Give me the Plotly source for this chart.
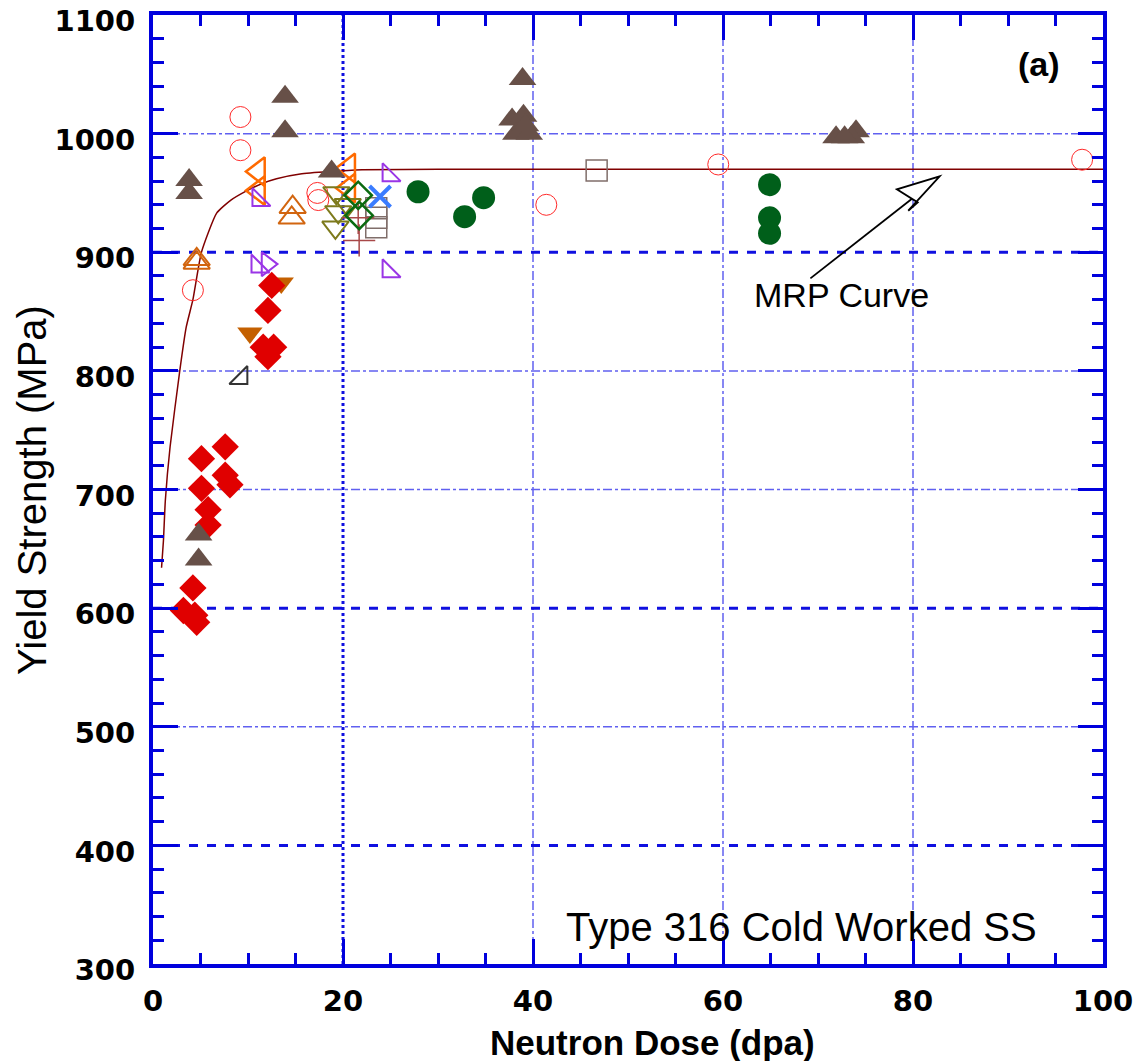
import plotly.graph_objects as go

# ---- data: neutron dose (dpa) vs yield strength (MPa), Type 316 CW SS ----
red_diamond_x = [12.5, 12.1, 11.6, 12.7, 12.1, 7.6, 5.1, 7.6, 8.1, 5.1, 5.8, 5.8, 4.2, 3.2, 4.4, 4.6]
red_diamond_y = [872, 851, 820, 820, 812, 736, 726, 712, 704, 701, 683, 670, 617, 598, 594, 588]

brown_tri_x = [3.8, 3.8, 13.9, 13.9, 18.8, 4.8, 4.8, 38.9, 37.8, 39.0, 38.2, 39.6, 39.2, 71.9, 74.0, 73.5, 72.8]
brown_tri_y = [961, 950, 1031, 1002, 968, 662, 641, 1046, 1012, 1015, 1000, 1000, 1007, 997, 1002, 997, 997]

red_circle_x = [9.2, 9.2, 4.2, 17.3, 17.4, 41.4, 59.5, 97.8]
red_circle_y = [1014, 986, 868, 950, 944, 940, 974, 978]

orange_left_x = [11.1, 11.1, 20.6, 20.6]
orange_left_y = [968, 952, 971, 954]

orange_up_x = [14.7, 14.6, 4.6, 4.6]
orange_up_y = [938, 929, 894, 891]

purple_sw_x = [11.1, 24.8, 24.8, 11.0]
purple_sw_y = [944, 965, 884, 888]

purple_right_x = [12.0]
purple_right_y = [890]

olive_down_x = [19.3, 20.5, 19.5, 19.2]
olive_down_y = [950, 940, 934, 921]

green_diamond_x = [21.6, 21.7]
green_diamond_y = [948, 931]

blue_x_x = [23.9]
blue_x_y = [947]

gray_square_x = [23.5, 23.5, 23.5, 46.7]
gray_square_y = [937, 929, 921, 969]

brown_plus_x = [21.6, 21.7]
brown_plus_y = [929, 910]

green_circle_x = [27.9, 34.8, 32.8, 64.9, 64.9, 64.9]
green_circle_y = [951, 946, 930, 957, 929, 916]

orange_down_x = [13.5, 10.2]
orange_down_y = [874, 832]

black_se_x = [9.3]
black_se_y = [794]

# MRP curve, traced point by point
mrp_x = [0.9, 1.1, 1.3, 1.8, 2.8, 3.5, 4.2, 5.1, 6.7, 8.2, 9.9, 11.5, 13.0, 15.5, 18.6, 22.0, 30.0, 100.0]
mrp_y = [634, 657, 691, 736, 799, 837, 860, 900, 933, 944, 952, 958, 962, 966, 968, 969.5, 970, 970]

# grid positions
x_grid = [20, 40, 60, 80]
y_grid = [400, 500, 600, 700, 800, 900, 1000]
x_ticks = [0, 20, 40, 60, 80, 100]
y_ticks = [300, 400, 500, 600, 700, 800, 900, 1000, 1100]

fig = go.Figure()

# gridlines (heavy dotted / light dash-dot)
heavy_y = {400, 600, 900}
heavy_x = {20}
for gx in x_grid:
    heavy = gx in heavy_x
    fig.add_shape(type="line", xref="x", yref="y", x0=gx, x1=gx, y0=300, y1=1100,
                  line=dict(color="#1010e0" if heavy else "#6060f0",
                            width=3 if heavy else 1.5,
                            dash="dot" if heavy else "dashdot"), layer="below")
for gy in y_grid:
    heavy = gy in heavy_y
    fig.add_shape(type="line", xref="x", yref="y", x0=0, x1=100, y0=gy, y1=gy,
                  line=dict(color="#1010e0" if heavy else "#6060f0",
                            width=3 if heavy else 1.5,
                            dash="dash" if heavy else "dashdot"), layer="below")

# MRP curve
fig.add_trace(go.Scatter(x=mrp_x, y=mrp_y, mode="lines",
                         line=dict(color="#800000", width=1.5, shape="spline", smoothing=0.5),
                         hoverinfo="skip", showlegend=False))


def add_pts(x, y, symbol, color, size, lw=1.5, fill=None):
    marker = dict(symbol=symbol, size=size, color=fill if fill else color,
                  line=dict(color=color, width=lw))
    fig.add_trace(go.Scatter(x=x, y=y, mode="markers", marker=marker, showlegend=False))


add_pts(red_circle_x, red_circle_y, "circle-open", "#ff2a2a", 21, 1)
add_pts(orange_left_x, orange_left_y, "triangle-left-open", "#ff6a00", 25, 2.5)
add_pts(orange_up_x, orange_up_y, "triangle-up-open", "#d2650f", 23, 2)
add_pts(purple_sw_x, purple_sw_y, "triangle-sw-open", "#9a35e6", 20, 2)
add_pts(purple_right_x, purple_right_y, "triangle-right-open", "#9a35e6", 21, 2)
add_pts(olive_down_x, olive_down_y, "triangle-down-open", "#7d7a1c", 23, 2)
add_pts(gray_square_x, gray_square_y, "square-open", "#806e6a", 21, 1.5)
add_pts(brown_plus_x, brown_plus_y, "cross-thin-open", "#a84848", 23, 1.5)
add_pts(green_diamond_x, green_diamond_y, "diamond-open", "#0b6a10", 21, 2.5)
add_pts(blue_x_x, blue_x_y, "x-thin-open", "#3a7cff", 21, 4)
add_pts(black_se_x, black_se_y, "triangle-se-open", "#333333", 20, 2)
add_pts(orange_down_x, orange_down_y, "triangle-down", "#c46000", 22, 0, fill="#c46000")
add_pts(red_diamond_x, red_diamond_y, "diamond", "#e00000", 21, 0, fill="#e00000")
add_pts(green_circle_x, green_circle_y, "circle", "#005f1a", 23, 0, fill="#005f1a")
add_pts(brown_tri_x, brown_tri_y, "triangle-up", "#675048", 24, 0, fill="#675048")

# arrow pointing to the MRP curve (open head)
ax0, ay0 = 69.2, 878.0
tip_x, tip_y = 82.8, 964.0
fig.add_shape(type="line", xref="x", yref="y", x0=ax0, y0=ay0, x1=81.0, y1=952.0,
              line=dict(color="black", width=1.8))
head = [(tip_x, tip_y), (79.5, 935.0), (80.5, 942.0), (78.3, 953.0)]
path = "M " + " L ".join(f"{px},{py}" for px, py in head) + " Z"
fig.add_shape(type="path", xref="x", yref="y", path=path, fillcolor="white",
              line=dict(color="black", width=1.8))

fig.add_annotation(x=72.5, y=864, xref="x", yref="y", text="MRP Curve", showarrow=False,
                   font=dict(family="Liberation Sans", size=34, color="black"))
fig.add_annotation(x=68.3, y=331, xref="x", yref="y", text="Type 316 Cold Worked SS", showarrow=False,
                   font=dict(family="Liberation Sans", size=40, color="black"))
fig.add_annotation(x=93.3, y=1059, xref="x", yref="y", text="<b>(a)</b>", showarrow=False,
                   font=dict(family="Liberation Sans", size=34, color="black"))

# axis titles
fig.add_annotation(x=-0.128, y=0.5, xref="paper", yref="paper", text="Yield Strength (MPa)",
                   textangle=-90, showarrow=False, xanchor="center", yanchor="middle",
                   font=dict(family="Liberation Sans", size=40, color="black"))
fig.add_annotation(x=0.526, y=-0.083, xref="paper", yref="paper", text="<b>Neutron Dose (dpa)</b>",
                   showarrow=False, xanchor="center", yanchor="middle",
                   font=dict(family="Liberation Sans", size=35, color="black"))

axis_common = dict(
    showline=True, linecolor="#0000dd", linewidth=4, mirror="ticks",
    ticks="inside", ticklen=25, tickwidth=3, tickcolor="#0000dd",
    showgrid=False, zeroline=False, ticklabeloverflow="allow", automargin=False,
    tickfont=dict(family="DejaVu Sans", size=29, color="black", weight="bold"),
)

fig.update_xaxes(range=[0, 100], tickvals=x_ticks, ticktext=[str(v) for v in x_ticks],
                 minor=dict(ticks="inside", ticklen=11, tickwidth=3, tickcolor="#0000dd", dtick=5, tick0=0),
                 ticklabelstandoff=8, **axis_common)
fig.update_yaxes(range=[300, 1100], tickvals=y_ticks, ticktext=[str(v) for v in y_ticks],
                 minor=dict(ticks="inside", ticklen=11, tickwidth=3, tickcolor="#0000dd", dtick=20, tick0=300),
                 ticklabelstandoff=8, ticklabelshift=6, **axis_common)

fig.update_layout(
    width=1144, height=1061,
    margin=dict(l=153, r=41, t=15, b=97, autoexpand=False),
    paper_bgcolor="white", plot_bgcolor="white",
    showlegend=False,
)

fig.write_html("out.html")
